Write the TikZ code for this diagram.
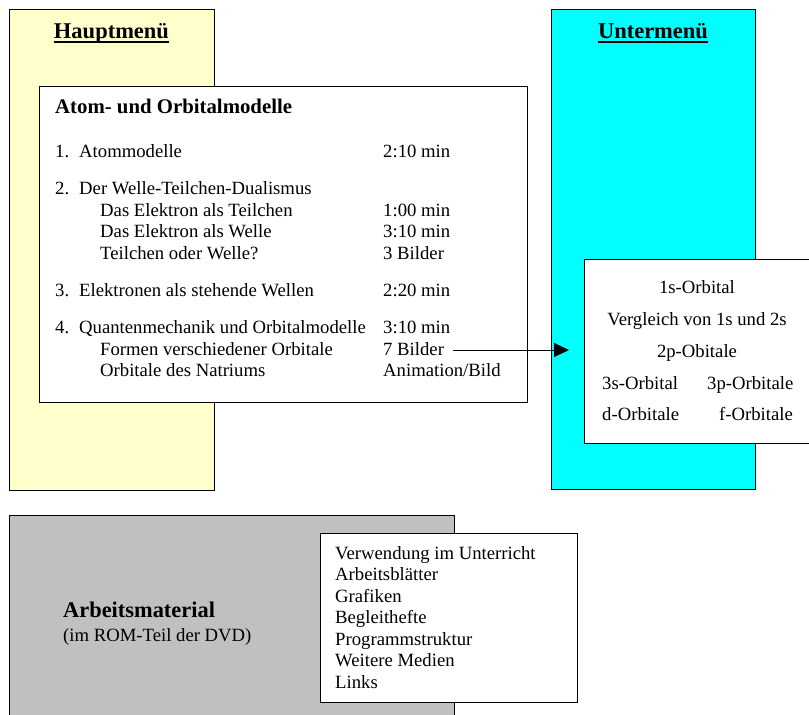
\documentclass[tikz,border=0pt]{standalone}
\usepackage{fontspec}
\setmainfont{Liberation Serif}
\usetikzlibrary{arrows.meta}
\definecolor{yellowbg}{HTML}{FFFFCC}
\definecolor{cyanbg}{HTML}{00FFFF}
\definecolor{graybg}{HTML}{C0C0C0}
\begin{document}
\begin{tikzpicture}[x=1pt,y=-1pt,
  panel/.style={draw=black,line width=1pt,anchor=north west,inner sep=0pt,outer sep=0pt},
  body/.style={anchor=base west,inner sep=0pt,font=\fontsize{18.7}{21.5}\selectfont},
  bodyc/.style={anchor=base,inner sep=0pt,font=\fontsize{18.7}{21.5}\selectfont},
  head/.style={anchor=base,inner sep=0pt,font=\fontsize{22.5}{26}\selectfont\bfseries},
  uline/.style={line width=2.5pt}
  ]
\useasboundingbox (0,0) rectangle (809,715);
\fill[white] (0,0) rectangle (809,715);

% background panels
\node[panel,fill=yellowbg,minimum width=205pt,minimum height=481pt] (haupt) at (9,9) {};
\node[panel,fill=cyanbg,minimum width=204pt,minimum height=480pt] (unter) at (551,9) {};
\node[panel,fill=graybg,minimum width=445pt,minimum height=210pt] (arbeit) at (9,515) {};

% headers
\node[head] (hm) at (111.5,38) {Hauptmenü};
\draw[uline] ([yshift=-4pt]hm.base west) -- ([yshift=-4pt]hm.base east);
\node[head] (um) at (653,38) {Untermenü};
\draw[uline] ([yshift=-4pt]um.base west) -- ([yshift=-4pt]um.base east);

% main content box
\node[panel,fill=white,minimum width=488pt,minimum height=316pt] (atom) at (39,86) {};
\node[anchor=base west,inner sep=0pt,font=\fontsize{20.8}{24}\selectfont\bfseries] (title) at (55,113) {Atom- und Orbitalmodelle};

\node[body] (n1) at (55,157) {1.};
\node[body] (t1) at (79,157) {Atommodelle};
\node[body] (m1) at (383,157) {2:10 min};

\node[body] (n2) at (55,194) {2.};
\node[body] (t2) at (79,194) {Der Welle-Teilchen-Dualismus};
\node[body] (t2a) at (100,216) {Das Elektron als Teilchen};
\node[body] (m2a) at (383,216) {1:00 min};
\node[body] (t2b) at (100,237.5) {Das Elektron als Welle};
\node[body] (m2b) at (383,237.5) {3:10 min};
\node[body] (t2c) at (100,259) {Teilchen oder Welle?};
\node[body] (m2c) at (383,259) {3 Bilder};

\node[body] (n3) at (55,296) {3.};
\node[body] (t3) at (79,296) {Elektronen als stehende Wellen};
\node[body] (m3) at (383,296) {2:20 min};

\node[body] (n4) at (55,333) {4.};
\node[body] (t4) at (79,333) {Quantenmechanik und Orbitalmodelle};
\node[body] (m4) at (383,333) {3:10 min};
\node[body] (t4a) at (100,355) {Formen verschiedener Orbitale};
\node[body] (m4a) at (383,355) {7 Bilder};
\node[body] (t4b) at (100,376.5) {Orbitale des Natriums};
\node[body] (m4b) at (383,376.5) {Animation/Bild};

% submenu box (runs past the right edge)
\node[panel,fill=white,minimum width=236pt,minimum height=184pt] (sub) at (584,259) {};
\node[bodyc] (s1) at (697,293) {1s-Orbital};
\node[bodyc] (s2) at (697,325) {Vergleich von 1s und 2s};
\node[bodyc] (s3) at (697,357) {2p-Obitale};
\node[body] (s4) at (602,389) {3s-Orbital};
\node[body] (s5) at (707,389) {3p-Orbitale};
\node[body] (s6) at (602,420) {d-Orbitale};
\node[body] (s7) at (719,420) {f-Orbitale};

% arrow
\coordinate (arrstart) at ([shift={(9pt,5pt)}]m4a.base east);
\coordinate (arrend) at (569,350);
\draw[line width=1pt,-{Triangle[length=15pt,width=14pt]}] (arrstart) -- (arrend);

% Arbeitsmaterial
\node[anchor=base west,inner sep=0pt,font=\fontsize{22.4}{26}\selectfont\bfseries] (am) at (63,617) {Arbeitsmaterial};
\node[body] (am2) at (63,641) {(im ROM-Teil der DVD)};

% list box
\node[panel,fill=white,minimum width=257pt,minimum height=169pt] (list) at (320,533) {};
\foreach \t [count=\i from 0] in {Verwendung im Unterricht,Arbeitsblätter,Grafiken,Begleithefte,Programmstruktur,Weitere Medien,Links}
  \node[body] (l\i) at (335,559+21.5*\i) {\t};
\end{tikzpicture}
\end{document}
